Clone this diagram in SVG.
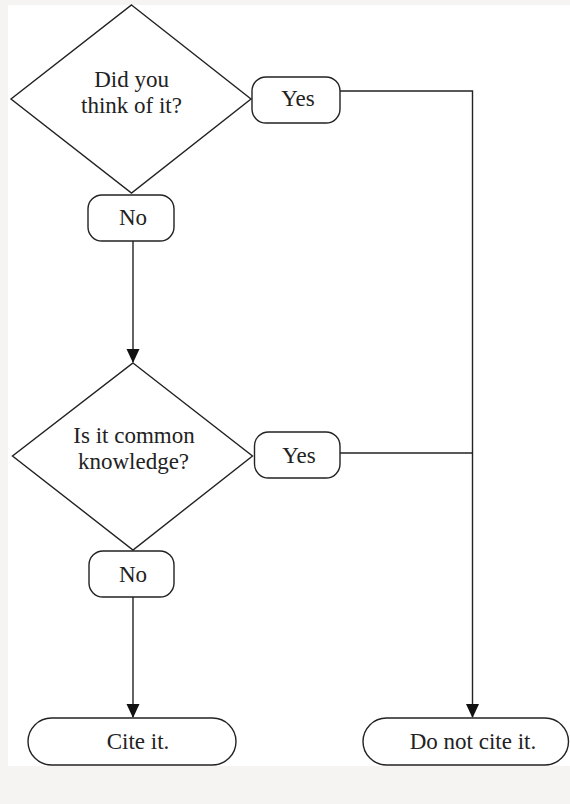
<svg xmlns="http://www.w3.org/2000/svg" width="570" height="804" viewBox="0 0 570 804">
<style>
.s{fill:#fff;stroke:#222;stroke-width:1.4}
.c{fill:none;stroke:#222;stroke-width:1.4}
text{font-family:"Liberation Serif","Times New Roman",serif;font-size:23px;fill:#222;text-anchor:middle}
</style>
<defs>
<marker id="ah" markerWidth="14" markerHeight="15" refX="13" refY="7" orient="auto" markerUnits="userSpaceOnUse">
<path d="M0,0.5 L14,7 L0,13.5 Z" fill="#111"/>
</marker>
</defs>
<rect width="570" height="804" fill="#f5f4f2"/>
<rect x="8" y="5" width="562" height="761" fill="#fff"/>
<g id="connectors">
<path class="c" d="M340,91 H472.5 V717" marker-end="url(#ah)"/>
<path class="c" d="M340,453 H472.5"/>
<path class="c" d="M133,241 V362" marker-end="url(#ah)"/>
<path class="c" d="M133,597 V717" marker-end="url(#ah)"/>
</g>
<g id="q1">
<polygon class="s" points="131.5,5 251,99 131.5,193 11,99"/>
<text x="131.5" y="87">Did you</text>
<text x="131.5" y="113">think of it?</text>
</g>
<g id="yes1">
<rect class="s" x="252" y="77" width="88" height="46" rx="14"/>
<text x="298" y="106">Yes</text>
</g>
<g id="no1">
<rect class="s" x="88" y="195" width="86" height="46" rx="14"/>
<text x="133" y="225">No</text>
</g>
<g id="q2">
<polygon class="s" points="133,363 252.5,456 133,550 12.5,456"/>
<text x="134" y="443">Is it common</text>
<text x="133.5" y="469">knowledge?</text>
</g>
<g id="yes2">
<rect class="s" x="254.5" y="432" width="85.5" height="46" rx="14"/>
<text x="299" y="463">Yes</text>
</g>
<g id="no2">
<rect class="s" x="89" y="551" width="85" height="46" rx="14"/>
<text x="133" y="582">No</text>
</g>
<g id="cite">
<rect class="s" x="28" y="718" width="208" height="47" rx="23.5"/>
<text x="138" y="749">Cite it.</text>
</g>
<g id="donotcite">
<rect class="s" x="363" y="718" width="205.5" height="47" rx="23.5"/>
<text x="473" y="749">Do not cite it.</text>
</g>
</svg>
